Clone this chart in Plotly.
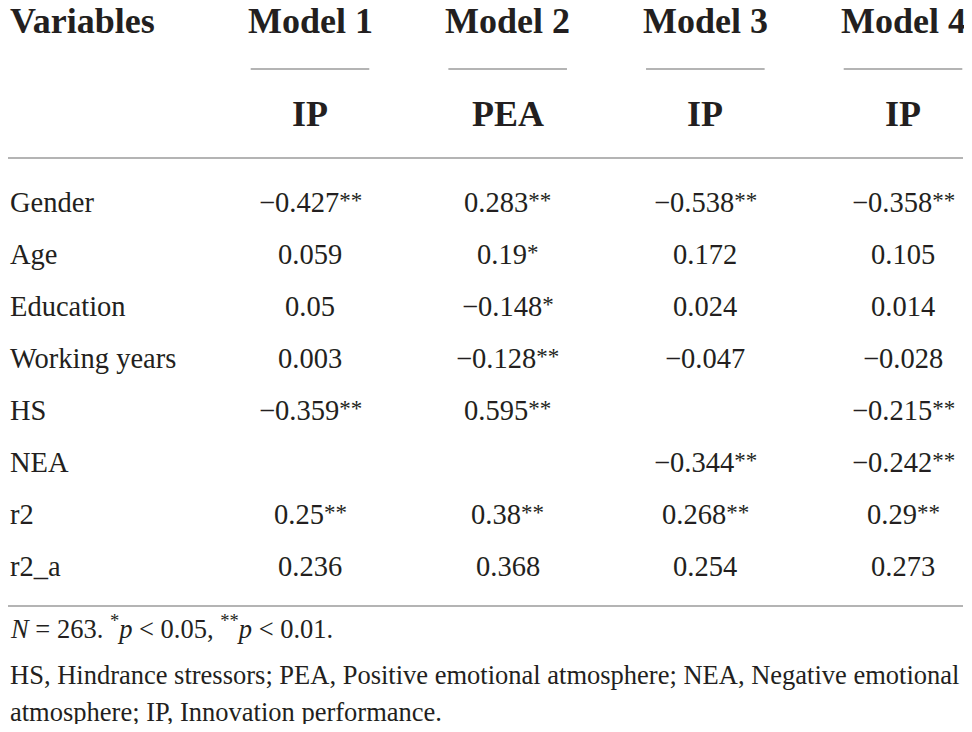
import plotly.graph_objects as go

# table content
variables = ["Gender", "Age", "Education", "Working years", "HS", "NEA", "r2", "r2_a"]
models = ["Model 1", "Model 2", "Model 3", "Model 4"]
outcomes = ["IP", "PEA", "IP", "IP"]

model1 = [-0.427, 0.059, 0.05, 0.003, -0.359, None, 0.25, 0.236]
model1_sig = ["**", "", "", "", "**", "", "**", ""]
model2 = [0.283, 0.19, -0.148, -0.128, 0.595, None, 0.38, 0.368]
model2_sig = ["**", "*", "*", "**", "**", "", "**", ""]
model3 = [-0.538, 0.172, 0.024, -0.047, None, -0.344, 0.268, 0.254]
model3_sig = ["**", "", "", "", "", "**", "**", ""]
model4 = [-0.358, 0.105, 0.014, -0.028, -0.215, -0.242, 0.29, 0.273]
model4_sig = ["**", "", "", "", "**", "**", "**", ""]

note1 = "<i>N</i> = 263. <sup>*</sup><i>p</i> &lt; 0.05, <sup>**</sup><i>p</i> &lt; 0.01."
note2 = "HS, Hindrance stressors; PEA, Positive emotional atmosphere; NEA, Negative emotional"
note3 = "atmosphere; IP, Innovation performance."

FONT = "Liberation Serif"
INK = "#231f20"
RULE = "#b4b4b4"

# page has an 8px body margin, so the figure is 956x716
W, H = 956, 716
COL = 197.67                # px per model column
ROW = 52.0                  # px per data row
X0 = 1 - 302 / COL          # model k centred at x=k
X1 = X0 + W / COL
Y0 = -194 / ROW             # data row i centred at y=i
Y1 = Y0 + H / ROW
LEFT = X0
RIGHT = X0 + 955 / COL


def fmt(v, sig):
    if v is None:
        return ""
    s = str(abs(v))
    if sig:
        s += '<span style="font-size:23px;baseline-shift:4px">%s</span>' % sig
    return ("\u2212" if v < 0 else "") + s


fig = go.Figure()
fig.add_trace(go.Scatter(x=[X0, X1], y=[Y0, Y1], mode="markers",
                         marker=dict(opacity=0), hoverinfo="skip", showlegend=False))

ann = []
ann.append(dict(x=LEFT, y=-3.48, text="<b>Variables</b>", xanchor="left",
                font=dict(size=36)))
for k, (m, o) in enumerate(zip(models, outcomes), start=1):
    ann.append(dict(x=k, y=-3.48, text="<b>%s</b>" % m, font=dict(size=36)))
    ann.append(dict(x=k, y=-1.69, text="<b>%s</b>" % o, font=dict(size=36)))

cols = [(model1, model1_sig), (model2, model2_sig), (model3, model3_sig), (model4, model4_sig)]
for i, var in enumerate(variables):
    ann.append(dict(x=LEFT, y=i, text=var, xanchor="left", font=dict(size=28.5)))
    for k, (vals, sigs) in enumerate(cols, start=1):
        txt = fmt(vals[i], sigs[i])
        if txt:
            ann.append(dict(x=k, y=i, text=txt, font=dict(size=28.5)))

for j, note in enumerate([note1, note2, note3]):
    ann.append(dict(x=LEFT, y=[8.18, 9.1, 9.81][j], text=note, xanchor="left",
                    font=dict(size=26.5)))

for a in ann:
    a.update(xref="x", yref="y", showarrow=False, yanchor="middle")
    a["font"].update(family=FONT, color=INK)

shapes = []
for k in range(1, len(models) + 1):
    shapes.append(dict(type="line", xref="x", yref="y", x0=k - 0.3, x1=k + 0.3,
                       y0=-2.56, y1=-2.56, line=dict(color=RULE, width=2)))
for yy in [-0.846, 7.77]:
    shapes.append(dict(type="line", xref="x", yref="y", x0=LEFT, x1=RIGHT,
                       y0=yy, y1=yy, line=dict(color=RULE, width=2)))

fig.update_layout(
    width=W, height=H,
    margin=dict(l=0, r=0, t=0, b=0),
    paper_bgcolor="white", plot_bgcolor="white",
    xaxis=dict(range=[X0, X1], visible=False, fixedrange=True),
    yaxis=dict(range=[Y1, Y0], visible=False, fixedrange=True),
    annotations=ann, shapes=shapes,
)

fig.write_html("out.html", config={"displayModeBar": False})
